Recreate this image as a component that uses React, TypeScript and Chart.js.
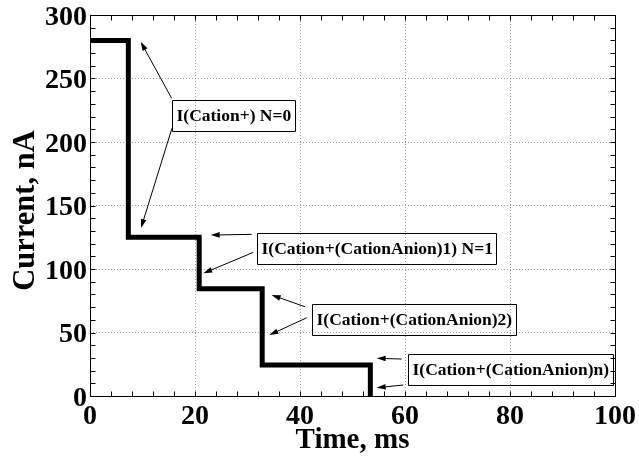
import React, { useEffect, useRef } from "react";
import { Chart, registerables } from "chart.js";

Chart.register(...registerables);

// Step current trace: time (ms) where each level begins, and the current level (nA)
const TIME_MS = [0, 7.3, 20.8, 32.8, 53.4];
const CURRENT_NA = [280, 125, 84.5, 24.5, 0];

// Axis ranges and tick steps
const X_RANGE = [0, 100];
const Y_RANGE = [0, 300];
const X_MAJOR = 20;
const Y_MAJOR = 50;
const X_MINOR = 4;
const Y_MINOR = 10;

const Y_TITLE = "Current, nA";
const X_TITLE = "Time, ms";

const FONT = "'Liberation Serif', 'Times New Roman', serif";

// Callout boxes (data coordinates: left edge and vertical centre) with their arrows
const CALLOUTS = [
  {
    text: "I(Cation+) N=0",
    x: 15.56,
    y: 221.2,
    arrows: [
      [15.56, 234.3, 9.66, 278.9],
      [15.62, 210.9, 9.71, 132.2],
    ],
  },
  {
    text: "I(Cation+(CationAnion)1) N=1",
    x: 31.75,
    y: 115.9,
    arrows: [
      [30.8, 127.3, 22.99, 126.7],
      [31.1, 113.1, 21.58, 96.6],
    ],
  },
  {
    text: "I(Cation+(CationAnion)2)",
    x: 42.34,
    y: 60.2,
    arrows: [
      [40.95, 70.3, 34.6, 79.5],
      [41.28, 61.6, 34.15, 48.0],
    ],
  },
  {
    text: "I(Cation+(CationAnion)n)",
    x: 60.63,
    y: 20.9,
    arrows: [
      [59.37, 29.1, 54.6, 29.7],
      [59.68, 8.66, 54.6, 6.5],
    ],
  },
];

function drawArrow(ctx: CanvasRenderingContext2D, x1: number, y1: number, x2: number, y2: number) {
  const ang = Math.atan2(y2 - y1, x2 - x1);
  const len = 9;
  const half = 2.8;
  ctx.beginPath();
  ctx.moveTo(x1, y1);
  ctx.lineTo(x2 - Math.cos(ang) * len * 0.6, y2 - Math.sin(ang) * len * 0.6);
  ctx.stroke();
  const bx = x2 - Math.cos(ang) * len;
  const by = y2 - Math.sin(ang) * len;
  ctx.beginPath();
  ctx.moveTo(x2, y2);
  ctx.lineTo(bx + Math.sin(ang) * half, by - Math.cos(ang) * half);
  ctx.lineTo(bx - Math.sin(ang) * half, by + Math.cos(ang) * half);
  ctx.closePath();
  ctx.fill();
}

// Box frame with inward ticks on all four sides, the y-axis title, and the callouts
const framePlugin = {
  id: "frame",
  afterDatasetsDraw(chart: any) {
    const { ctx, chartArea: a, scales } = chart;
    const xs = scales.x;
    const ys = scales.y;
    const L = Math.floor(a.left) + 0.5;
    const R = Math.floor(a.right) + 0.5;
    const T = Math.floor(a.top) + 0.5;
    const B = Math.floor(a.bottom) + 0.5;
    ctx.save();
    ctx.strokeStyle = "#000";
    ctx.fillStyle = "#000";
    ctx.lineWidth = 1;
    ctx.beginPath();
    ctx.rect(L, T, R - L, B - T);
    ctx.stroke();

    const tick = 5;
    ctx.beginPath();
    for (let v = X_RANGE[0]; v <= X_RANGE[1] + 1e-9; v += X_MINOR) {
      const px = Math.round(xs.getPixelForValue(v)) + 0.5;
      ctx.moveTo(px, B);
      ctx.lineTo(px, B - tick);
      ctx.moveTo(px, T);
      ctx.lineTo(px, T + tick);
    }
    for (let v = Y_RANGE[0]; v <= Y_RANGE[1] + 1e-9; v += Y_MINOR) {
      const py = Math.round(ys.getPixelForValue(v)) + 0.5;
      ctx.moveTo(L, py);
      ctx.lineTo(L + tick, py);
      ctx.moveTo(R, py);
      ctx.lineTo(R - tick, py);
    }
    ctx.stroke();

    // y-axis title, rotated, sitting a little below the plot's mid-height
    ctx.save();
    ctx.translate(26, (a.top + a.bottom) / 2 + 5);
    ctx.rotate(-Math.PI / 2);
    ctx.font = `bold 30.5px ${FONT}`;
    ctx.textAlign = "center";
    ctx.textBaseline = "middle";
    ctx.fillText(Y_TITLE, 0, 0);
    ctx.restore();

    ctx.font = `bold 17.5px ${FONT}`;
    ctx.textBaseline = "middle";
    ctx.textAlign = "left";
    for (const c of CALLOUTS) {
      for (const [x1, y1, x2, y2] of c.arrows) {
        drawArrow(
          ctx,
          xs.getPixelForValue(x1),
          ys.getPixelForValue(y1),
          xs.getPixelForValue(x2),
          ys.getPixelForValue(y2)
        );
      }
      const left = Math.round(xs.getPixelForValue(c.x)) + 0.5;
      const cy = ys.getPixelForValue(c.y);
      const tw = ctx.measureText(c.text).width;
      const w = Math.round(tw + 8);
      const h = 31;
      const top = Math.round(cy - h / 2) + 0.5;
      ctx.beginPath();
      ctx.rect(left, top, w, h);
      ctx.stroke();
      ctx.fillText(c.text, left + 4, cy + 1);
    }
    ctx.restore();
  },
};

function gridColor(ctx: any, lo: number, hi: number) {
  const v = ctx.tick?.value;
  return v === lo || v === hi ? "rgba(0,0,0,0)" : "rgba(0,0,0,0.38)";
}

export default function App() {
  const canvasRef = useRef<HTMLCanvasElement | null>(null);

  useEffect(() => {
    document.body.style.margin = "0";
    const canvas = canvasRef.current;
    if (!canvas) return;
    const points = TIME_MS.map((t, i) => ({ x: t, y: CURRENT_NA[i] }));
    const chart = new Chart(canvas, {
      type: "line",
      data: {
        datasets: [
          {
            data: points,
            borderColor: "#000",
            borderWidth: 5,
            pointRadius: 0,
            stepped: "before",
            borderJoinStyle: "miter",
            borderCapStyle: "butt",
            fill: false,
          },
        ],
      },
      options: {
        responsive: false,
        animation: false,
        events: [],
        layout: { padding: { top: 15, right: 24, left: 0, bottom: 0 } },
        plugins: {
          legend: { display: false },
          tooltip: { enabled: false },
        },
        scales: {
          x: {
            type: "linear",
            min: X_RANGE[0],
            max: X_RANGE[1],
            ticks: {
              stepSize: X_MAJOR,
              color: "#000",
              padding: 7,
              maxRotation: 0,
              font: { family: FONT, size: 28, weight: "bold", lineHeight: 1 },
            },
            grid: {
              drawTicks: false,
              color: (ctx: any) => gridColor(ctx, X_RANGE[0], X_RANGE[1]),
            },
            border: { display: false, dash: [1, 2] },
            title: {
              display: true,
              text: X_TITLE,
              color: "#000",
              font: { family: FONT, size: 29, weight: "bold", lineHeight: 1 },
              padding: { top: 0, bottom: 3 },
            },
            afterFit: (s: any) => {
              s.height = 62;
              s.paddingLeft = 0;
              s.paddingRight = 0;
            },
          },
          y: {
            type: "linear",
            min: Y_RANGE[0],
            max: Y_RANGE[1],
            ticks: {
              stepSize: Y_MAJOR,
              color: "#000",
              padding: 3,
              labelOffset: 2.5,
              font: { family: FONT, size: 28, weight: "bold", lineHeight: 1 },
            },
            grid: {
              drawTicks: false,
              color: (ctx: any) => gridColor(ctx, Y_RANGE[0], Y_RANGE[1]),
            },
            border: { display: false, dash: [1, 2] },
            title: { display: false },
            afterFit: (s: any) => {
              s.width = 90;
              s.paddingTop = 0;
              s.paddingBottom = 0;
            },
          },
        },
      } as any,
      plugins: [framePlugin],
    });
    return () => chart.destroy();
  }, []);

  return (
    <div style={{ width: 639, height: 458, background: "#fff" }}>
      <canvas ref={canvasRef} width={639} height={458} />
    </div>
  );
}
